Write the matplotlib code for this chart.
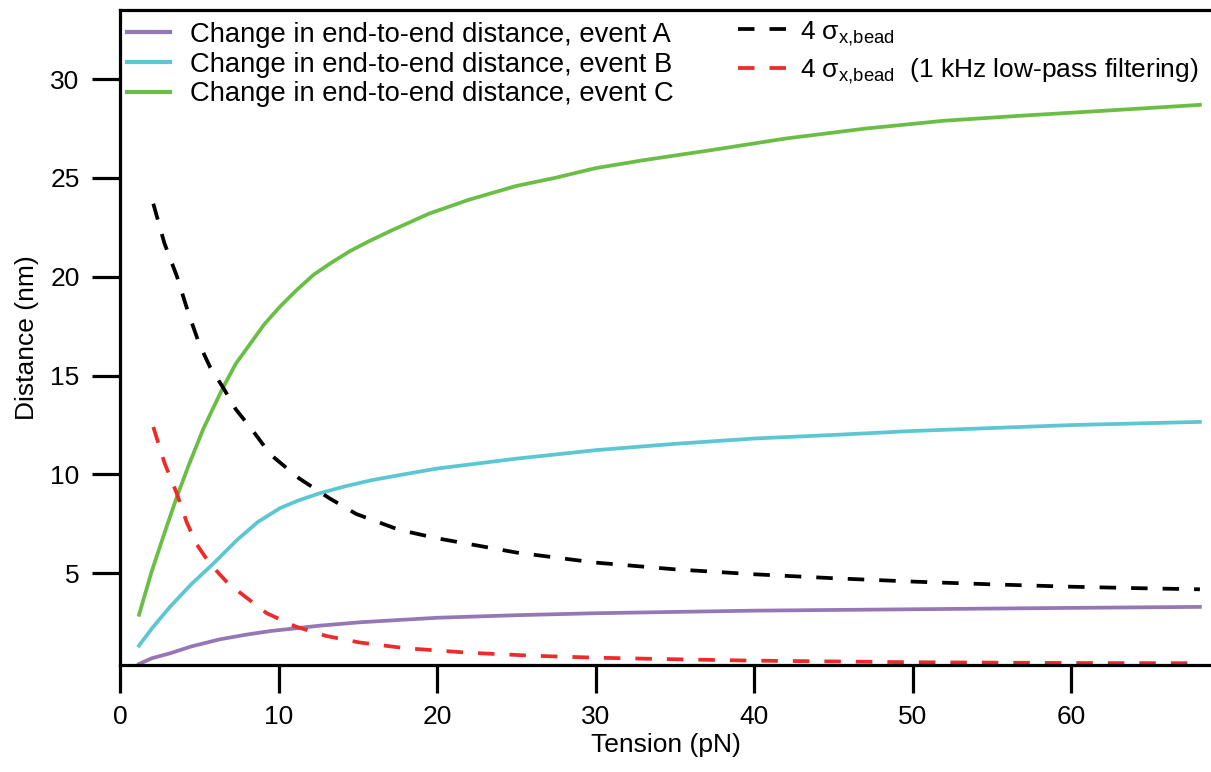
import numpy as np
import matplotlib
matplotlib.use('Agg')
import matplotlib.pyplot as plt

plt.rcParams['font.family'] = ['Liberation Sans', 'DejaVu Sans']
plt.rcParams['mathtext.fontset'] = 'custom'
plt.rcParams['mathtext.rm'] = 'Liberation Sans'

# event C (green)
tension_c = [1.2, 2.0, 3.0, 3.6, 4.3, 5.25, 5.9, 6.5, 7.3, 8.2, 9.1, 10.1, 11.1, 12.2, 13.3, 14.5,
             15.7, 17.0, 19.5, 22, 25, 27.4, 30, 33, 37.2, 42, 47, 52, 56.8, 62, 68.1]
dist_c = [2.9, 5.1, 7.5, 8.9, 10.4, 12.3, 13.4, 14.4, 15.6, 16.6, 17.6, 18.5, 19.3, 20.1, 20.7, 21.3,
          21.8, 22.3, 23.2, 23.9, 24.6, 25.0, 25.5, 25.9, 26.4, 27.0, 27.5, 27.9, 28.15, 28.4, 28.7]

# event B (cyan)
tension_b = [1.2, 2.0, 3.15, 4.5, 5.9, 7.4, 8.7, 10.1, 11.3, 12.6, 14.2, 15.8, 17.65, 20, 25, 30,
             35, 40, 45, 50, 55, 60, 64, 68.1]
dist_b = [1.34, 2.2, 3.3, 4.45, 5.5, 6.7, 7.6, 8.3, 8.7, 9.05, 9.4, 9.7, 9.97, 10.3, 10.8, 11.23,
          11.55, 11.82, 12.0, 12.2, 12.35, 12.5, 12.58, 12.66]

# event A (purple)
tension_a = [1.2, 2.0, 3.15, 4.5, 6.3, 8.0, 9.5, 12.6, 15.1, 17.65, 20, 25, 30, 40, 50, 60, 68.1]
dist_a = [0.41, 0.7, 0.95, 1.3, 1.66, 1.9, 2.08, 2.35, 2.52, 2.64, 2.75, 2.88, 2.98, 3.11, 3.18,
          3.25, 3.3]

# 4 sigma bead (black dashed)
tension_s = [2.1, 2.8, 3.6, 4.3, 5.0, 5.7, 6.5, 7.3, 8.2, 9.5, 11.3, 13.2, 14.9, 17.6, 20, 25, 30,
             35, 40, 45, 50, 55, 60, 64, 68.1]
sigma_raw = [23.7, 21.7, 20.0, 18.2, 16.6, 15.4, 14.4, 13.3, 12.4, 11.0, 9.8, 8.8, 8.0, 7.2, 6.77,
             6.05, 5.54, 5.2, 4.95, 4.75, 4.58, 4.44, 4.32, 4.25, 4.19]

# 4 sigma bead, 1 kHz low-pass (red dashed)
tension_f = [2.1, 2.8, 3.6, 4.2, 4.8, 5.4, 6.0, 6.8, 7.6, 9.25, 11.1, 13.0, 15.1, 18, 22, 26, 30,
             35, 40, 50, 60, 68.1]
sigma_filt = [12.4, 10.6, 9.0, 7.6, 6.5, 5.8, 5.2, 4.5, 4.0, 2.98, 2.3, 1.83, 1.5, 1.21, 0.98,
              0.83, 0.73, 0.65, 0.58, 0.5, 0.46, 0.45]

labels_events = ['Change in end-to-end distance, event A',
                 'Change in end-to-end distance, event B',
                 'Change in end-to-end distance, event C']
labels_sigma = [r'4 σ$_{\mathregular{x{,}bead}}$',
                r'4 σ$_{\mathregular{x{,}bead}}$  (1 kHz low-pass filtering)']

purple = '#9677B6'
cyan = '#5CC6D3'
green = '#6BBE45'
red = '#EE2A2A'

fig = plt.figure(figsize=(12.11, 7.72), dpi=100)
ax = fig.add_axes([120 / 1211, 1 - 665 / 772, 1 - 120 / 1211, (665 - 10) / 772])

lw = 2.7
la, = ax.plot(tension_a, dist_a, color=purple, lw=lw)
lb, = ax.plot(tension_b, dist_b, color=cyan, lw=lw)
lc, = ax.plot(tension_c, dist_c, color=green, lw=lw)
ls, = ax.plot(tension_s, sigma_raw, color='black', lw=lw, dashes=(4.4, 4.0))
lf, = ax.plot(tension_f, sigma_filt, color=red, lw=lw, dashes=(4.4, 4.0))

ax.set_xlim(0, 68.8)
ax.set_ylim(0.36, 33.5)
ax.set_xticks([0, 10, 20, 30, 40, 50, 60])
ax.set_yticks([5, 10, 15, 20, 25, 30])

for s in ['left', 'bottom', 'top']:
    ax.spines[s].set_linewidth(2.3)
ax.spines['right'].set_visible(False)
ax.tick_params(direction='out', length=20, width=2.3, labelsize=19, pad=9)

ax.set_xlabel('Tension (pN)', fontsize=19, labelpad=3)
ax.set_ylabel('Distance (nm)', fontsize=19, labelpad=8)

leg1 = ax.legend([la, lb, lc], labels_events, loc='upper left',
                 bbox_to_anchor=(127 / 1211, 1 - 22 / 772), bbox_transform=fig.transFigure,
                 frameon=False, fontsize=19.7, handlelength=1.57, handletextpad=0.72,
                 labelspacing=0.13, borderpad=0, borderaxespad=0)
ax.add_artist(leg1)
for l in leg1.get_lines():
    l.set_linewidth(3)

leg2 = ax.legend([ls, lf], labels_sigma, loc='upper left',
                 bbox_to_anchor=(738 / 1211, 1 - 19 / 772), bbox_transform=fig.transFigure,
                 frameon=False, fontsize=19, handlelength=2.0, handletextpad=0.35,
                 labelspacing=0.32, borderpad=0, borderaxespad=0)

fig.savefig('out.png', dpi=100)
